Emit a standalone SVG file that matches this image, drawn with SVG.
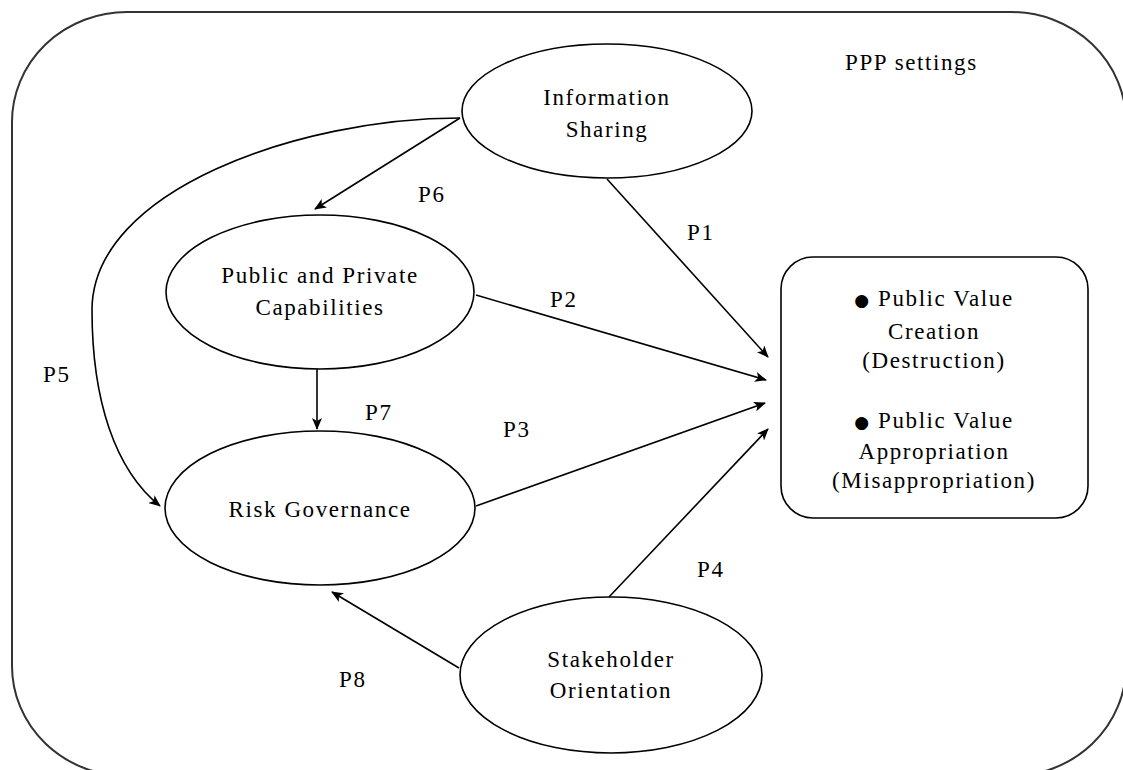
<svg xmlns="http://www.w3.org/2000/svg" width="1123" height="770" viewBox="0 0 1123 770">
<defs>
<style>
.t{font-family:"Liberation Serif","Times New Roman",serif;font-size:23px;letter-spacing:1.6px;fill:#000}
.m{text-anchor:middle}
.node{fill:#fff;stroke:#000;stroke-width:1.6}
.edge{fill:none;stroke:#000;stroke-width:1.6;marker-end:url(#ah)}
.b{font-family:"DejaVu Sans",sans-serif;font-size:17px}
</style>
<marker id="ah" viewBox="0 0 12 10" refX="11" refY="5" markerWidth="12" markerHeight="10" markerUnits="userSpaceOnUse" orient="auto">
<path d="M0,0 L12,5 L0,10 L3,5 z" fill="#000"/>
</marker>
</defs>
<rect width="1123" height="770" fill="#fff"/>
<g id="frame">
<rect x="12" y="12" width="1114" height="764" rx="115" ry="110" fill="none" stroke="#333" stroke-width="2"/>
<text class="t" x="845" y="70">PPP settings</text>
</g>
<g id="connectors">
<line class="edge" x1="607" y1="179" x2="768" y2="357"/>
<line class="edge" x1="476" y1="295" x2="766" y2="380"/>
<line class="edge" x1="476" y1="506" x2="765" y2="403"/>
<line class="edge" x1="609" y1="597" x2="768" y2="429"/>
<line class="edge" x1="460" y1="118" x2="315" y2="209"/>
<line class="edge" x1="317" y1="368" x2="317" y2="429"/>
<path class="edge" d="M460,118 C300,118 92,190 92,310 C92,400 115,470 160,506"/>
<line class="edge" x1="459" y1="668" x2="332" y2="592"/>
<text class="t" x="687" y="240">P1</text>
<text class="t" x="550" y="307">P2</text>
<text class="t" x="503" y="437">P3</text>
<text class="t" x="697" y="577">P4</text>
<text class="t" x="43" y="382">P5</text>
<text class="t" x="418" y="202">P6</text>
<text class="t" x="365" y="420">P7</text>
<text class="t" x="339" y="687">P8</text>
</g>
<g id="information-sharing">
<ellipse class="node" cx="607" cy="111" rx="145" ry="67"/>
<text class="t m" x="607" y="105">Information</text>
<text class="t m" x="607" y="137">Sharing</text>
</g>
<g id="public-private-capabilities">
<ellipse class="node" cx="320" cy="292" rx="154" ry="77"/>
<text class="t m" x="320" y="283">Public and Private</text>
<text class="t m" x="320" y="315">Capabilities</text>
</g>
<g id="risk-governance">
<ellipse class="node" cx="320" cy="508" rx="155" ry="77"/>
<text class="t m" x="320" y="517">Risk Governance</text>
</g>
<g id="stakeholder-orientation">
<ellipse class="node" cx="611" cy="675" rx="151" ry="78"/>
<text class="t m" x="611" y="667">Stakeholder</text>
<text class="t m" x="611" y="698">Orientation</text>
</g>
<g id="public-value">
<rect class="node" x="781" y="257" width="307" height="261" rx="32" ry="32"/>
<text class="t m" x="934" y="306"><tspan class="b">●</tspan> Public Value</text>
<text class="t m" x="934" y="339">Creation</text>
<text class="t m" x="934" y="368">(Destruction)</text>
<text class="t m" x="934" y="428"><tspan class="b">●</tspan> Public Value</text>
<text class="t m" x="934" y="459">Appropriation</text>
<text class="t m" x="934" y="488">(Misappropriation)</text>
</g>
</svg>
